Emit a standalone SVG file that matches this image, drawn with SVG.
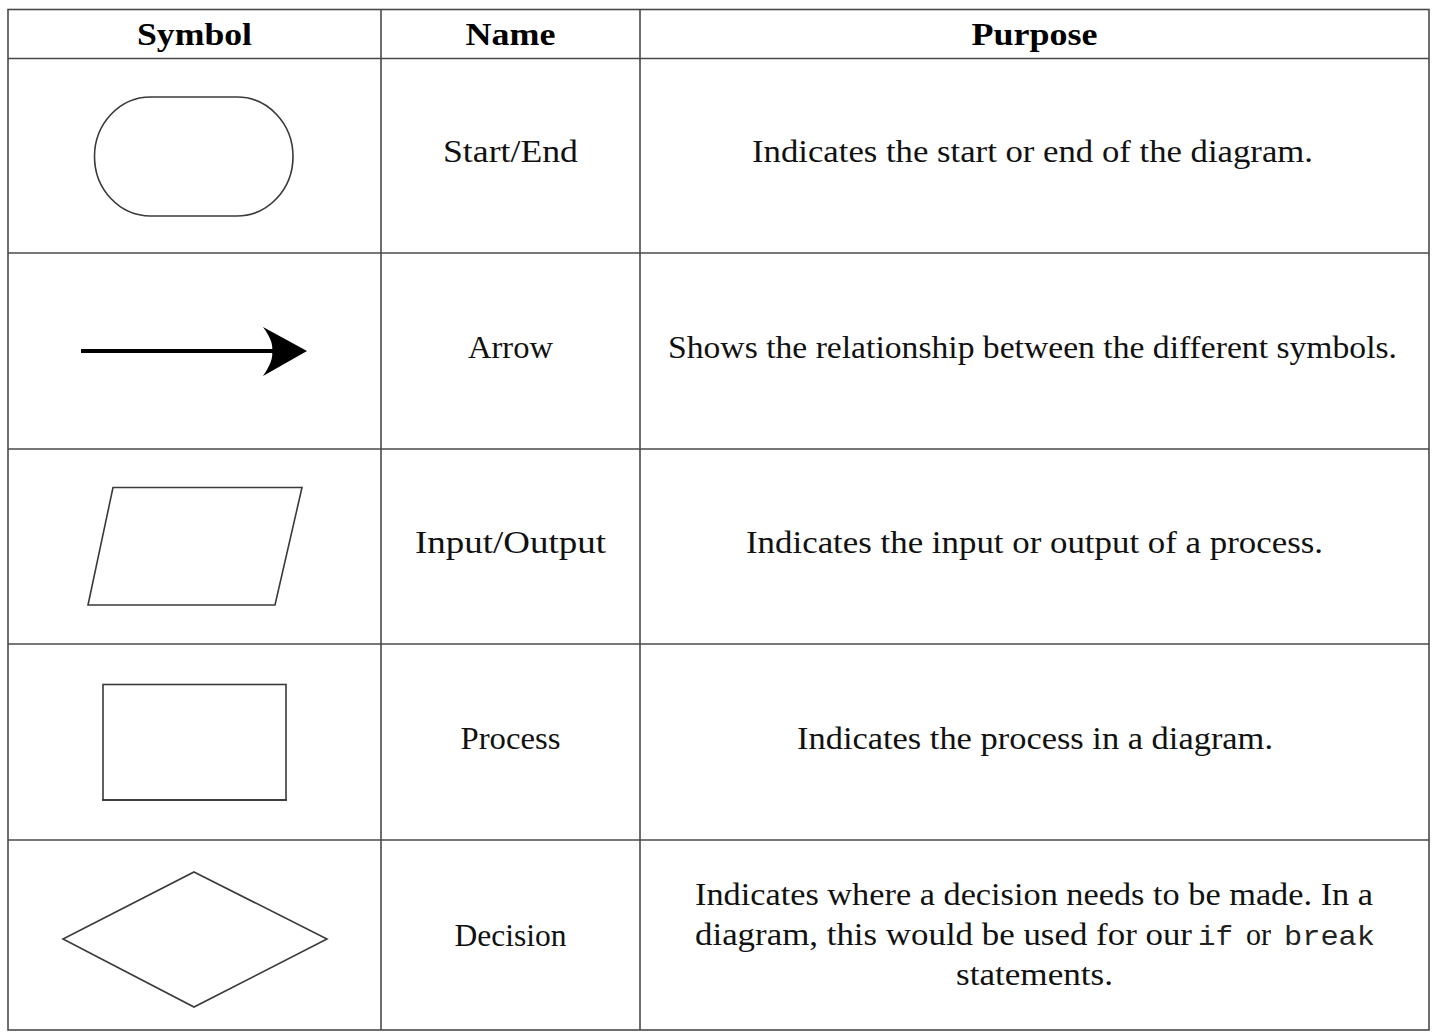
<svg xmlns="http://www.w3.org/2000/svg" width="1435" height="1032" viewBox="0 0 1435 1032">
  <style>
    .grid { stroke: #4a4a4a; stroke-width: 1.6; fill: none; }
    .head { font-family: "Liberation Serif", "DejaVu Serif", serif; font-weight: bold; font-size: 31px; fill: #000; text-anchor: middle; }
    .body { font-family: "Liberation Serif", "DejaVu Serif", serif; font-size: 31px; fill: #111; }
    .mid { text-anchor: middle; }
    .mono { font-family: "Liberation Mono", "DejaVu Sans Mono", monospace; font-size: 28px; fill: #222; }
    .shape { fill: #fff; stroke: #3a3a3a; stroke-width: 1.6; }
  </style>

  <rect width="1435" height="1032" fill="#fff"/>

  <!-- table rules -->
  <g id="grid" class="grid">
    <rect x="8" y="9.5" width="1421" height="1020.5"/>
    <line x1="381" y1="9.5" x2="381" y2="1030"/>
    <line x1="640" y1="9.5" x2="640" y2="1030"/>
    <line x1="8" y1="58.5" x2="1429" y2="58.5"/>
    <line x1="8" y1="253" x2="1429" y2="253"/>
    <line x1="8" y1="449" x2="1429" y2="449"/>
    <line x1="8" y1="644" x2="1429" y2="644"/>
    <line x1="8" y1="840" x2="1429" y2="840"/>
  </g>

  <!-- header row -->
  <g id="header">
    <text class="head" x="194.5" y="45" textLength="115" lengthAdjust="spacingAndGlyphs">Symbol</text>
    <text class="head" x="510.5" y="45" textLength="90" lengthAdjust="spacingAndGlyphs">Name</text>
    <text class="head" x="1034.5" y="45" textLength="126" lengthAdjust="spacingAndGlyphs">Purpose</text>
  </g>

  <!-- terminator -->
  <g id="row-start-end">
    <rect class="shape" x="94.5" y="97" width="198.5" height="119" rx="56" ry="59.5"/>
    <text class="body mid" x="510.5" y="162" textLength="135" lengthAdjust="spacingAndGlyphs">Start/End</text>
    <text class="body mid" x="1032.5" y="162" textLength="561" lengthAdjust="spacingAndGlyphs">Indicates the start or end of the diagram.</text>
  </g>

  <!-- flow line -->
  <g id="row-arrow">
    <line x1="81" y1="351" x2="274" y2="351" stroke="#000" stroke-width="4"/>
    <path d="M307,351 L263,327 Q274,342 272,351 Q274,360 263,376 Z" fill="#000"/>
    <text class="body mid" x="510.5" y="358" textLength="85" lengthAdjust="spacingAndGlyphs">Arrow</text>
    <text class="body mid" x="1032.5" y="358" textLength="729" lengthAdjust="spacingAndGlyphs">Shows the relationship between the different symbols.</text>
  </g>

  <!-- data -->
  <g id="row-input-output">
    <polygon class="shape" points="113,487.5 302,487.5 275,605 88,605" stroke="#474747" stroke-width="2"/>
    <text class="body mid" x="510.5" y="553" textLength="191" lengthAdjust="spacingAndGlyphs">Input/Output</text>
    <text class="body mid" x="1034.5" y="553" textLength="577" lengthAdjust="spacingAndGlyphs">Indicates the input or output of a process.</text>
  </g>

  <!-- process -->
  <g id="row-process">
    <rect class="shape" x="103" y="684.5" width="183" height="115.5" stroke="#6e6e6e" stroke-width="2.2"/>
    <line x1="102" y1="800" x2="287" y2="800" stroke="#333" stroke-width="1.6"/>
    <text class="body mid" x="510.5" y="749" textLength="100" lengthAdjust="spacingAndGlyphs">Process</text>
    <text class="body mid" x="1035" y="749" textLength="476" lengthAdjust="spacingAndGlyphs">Indicates the process in a diagram.</text>
  </g>

  <!-- decision -->
  <g id="row-decision">
    <polygon class="shape" points="194,872 327,939 194,1007 63,939"/>
    <text class="body mid" x="510.5" y="946" textLength="112" lengthAdjust="spacingAndGlyphs">Decision</text>
    <text class="body" x="695" y="905" textLength="678" lengthAdjust="spacingAndGlyphs">Indicates where a decision needs to be made. In a</text>
    <text class="body" x="695" y="945" textLength="497" lengthAdjust="spacingAndGlyphs">diagram, this would be used for our</text>
    <text class="mono" x="1198" y="945" textLength="35" lengthAdjust="spacingAndGlyphs">if</text>
    <text class="body" x="1246" y="945" textLength="25" lengthAdjust="spacingAndGlyphs">or</text>
    <text class="mono" x="1284" y="945" textLength="91" lengthAdjust="spacingAndGlyphs">break</text>
    <text class="body mid" x="1034.5" y="985" textLength="157" lengthAdjust="spacingAndGlyphs">statements.</text>
  </g>
</svg>
